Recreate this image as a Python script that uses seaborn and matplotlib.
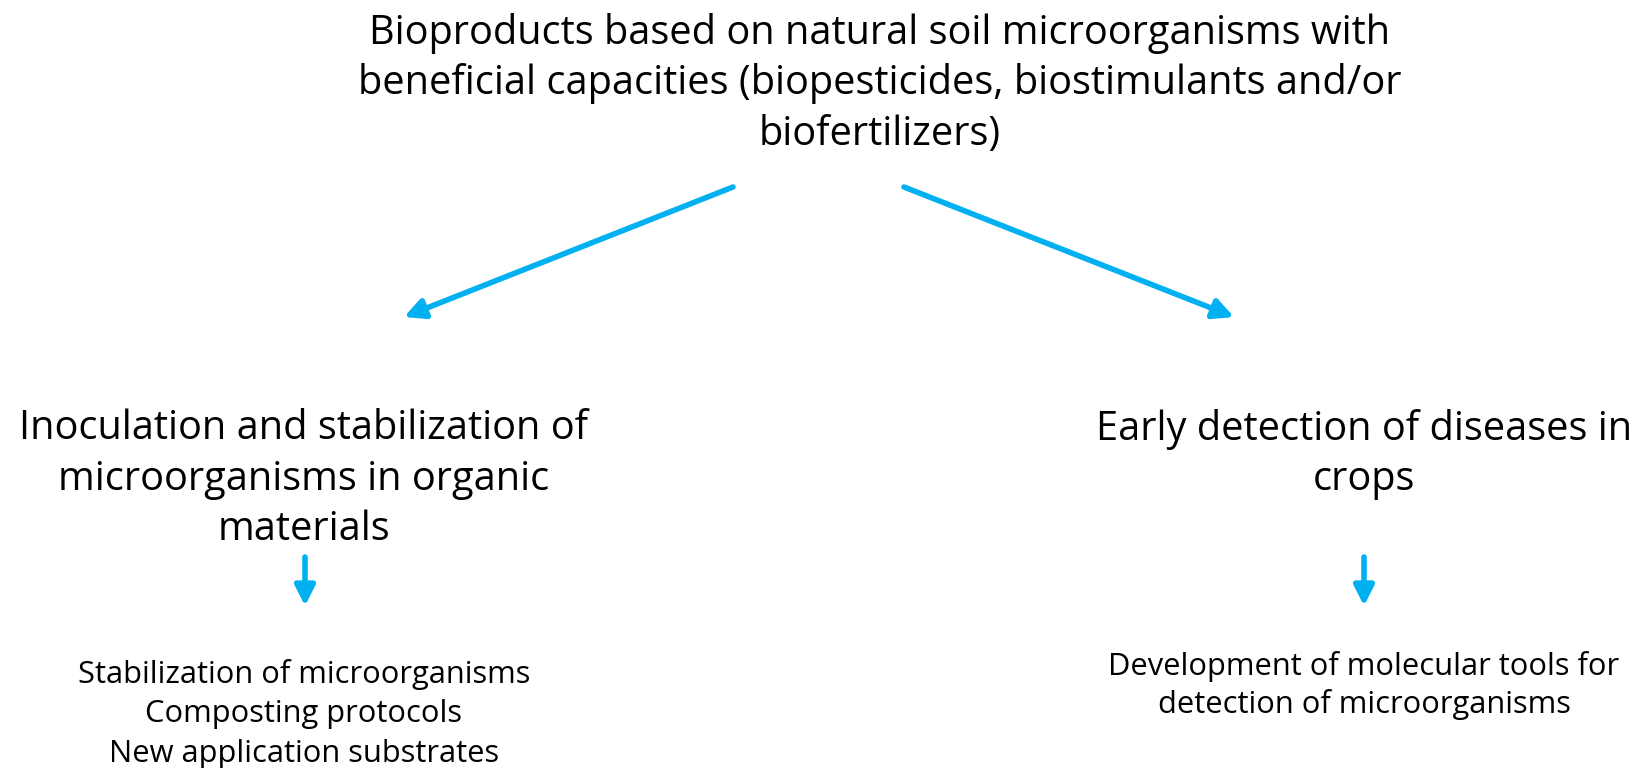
import seaborn as sns
import matplotlib.pyplot as plt

# Texts of the diagram
top_text = ["Bioproducts based on natural soil microorganisms with",
            "beneficial capacities (biopesticides, biostimulants and/or",
            "biofertilizers)"]
left_head = ["Inoculation and stabilization of",
             "microorganisms in organic",
             "materials"]
right_head = ["Early detection of diseases in",
              "crops"]
left_items = ["Stabilization of microorganisms",
              "Composting protocols",
              "New application substrates"]
right_items = ["Development of molecular tools for",
               "detection of microorganisms"]

sns.set_theme(style="white")
plt.rcParams['font.family'] = ['Open Sans', 'DejaVu Sans']

blue = '#00B0F0'
fig = plt.figure(figsize=(16.46, 7.68), dpi=100)
ax = fig.add_axes([0, 0, 1, 1])
ax.set_xlim(0, 1646)
ax.set_ylim(768, 0)
ax.axis('off')

def block(lines, x, y0, step, size):
    for i, s in enumerate(lines):
        ax.text(x, y0 + i*step, s, ha='center', va='center', fontsize=size, color='black')

block(top_text, 880, 33, 51, 28.6)
block(left_head, 304, 429, 50.5, 28.6)
block(right_head, 1364, 429, 50.5, 28.6)
block(left_items, 304, 674, 40, 22.2)
block(right_items, 1364, 666, 38, 22.2)

def arrow(x0, y0, x1, y1):
    ax.annotate('', xy=(x1, y1), xytext=(x0, y0),
                arrowprops=dict(arrowstyle='-|>,head_length=1.0,head_width=0.5',
                                color=blue, lw=4, shrinkA=0, shrinkB=0))

arrow(733, 187, 404, 317)
arrow(904, 187, 1234, 317)
arrow(305, 557, 305, 606)
arrow(1364, 557, 1364, 606)

fig.savefig('out.png', dpi=100)
